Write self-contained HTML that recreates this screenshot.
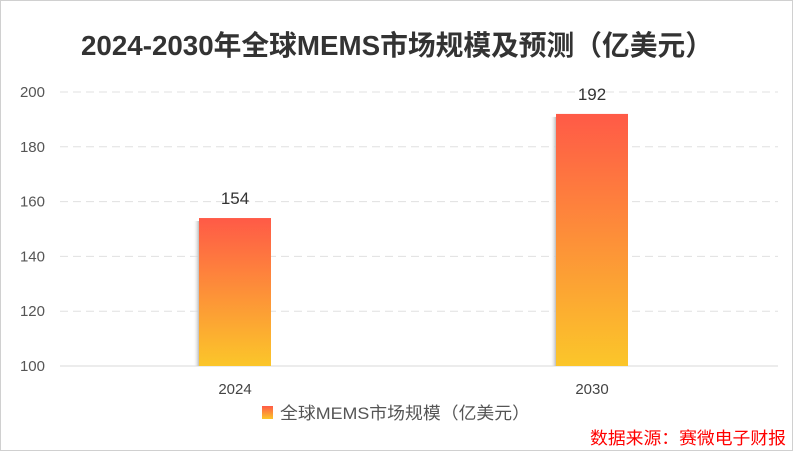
<!DOCTYPE html>
<html><head><meta charset="utf-8"><style>
body{margin:0;background:#fff;}
#c{position:relative;width:794px;height:452px;font-family:"Liberation Sans","Noto Sans CJK SC",sans-serif;}
</style></head><body>
<div id="c">
<svg id="s" width="794" height="452" xmlns="http://www.w3.org/2000/svg">
<defs>
<linearGradient id="g" x1="0" y1="0" x2="0" y2="1"><stop offset="0" stop-color="#ff5a47"/><stop offset="1" stop-color="#fbc62a"/></linearGradient>
<linearGradient id="sh" x1="0" y1="0" x2="1" y2="0"><stop offset="0" stop-color="#fff" stop-opacity="0"/><stop offset="1" stop-color="#bbb"/></linearGradient>
</defs>
<rect x="0.5" y="0.5" width="792" height="450" fill="#fff" stroke="#d0d0d0"/>
<text x="397" y="55" text-anchor="middle" font-size="28" font-weight="bold" fill="#333" textLength="632" lengthAdjust="spacingAndGlyphs">2024-2030年全球MEMS市场规模及预测（亿美元）</text>
<g id="grid"></g><g id="bars"></g>
<rect x="262" y="406" width="11" height="13" fill="url(#g)"/>
<text x="280" y="419" font-size="17" fill="#555" textLength="250" lengthAdjust="spacingAndGlyphs">全球MEMS市场规模（亿美元）</text>
<text x="786" y="444" text-anchor="end" font-size="17" fill="#ff0000" textLength="196" lengthAdjust="spacingAndGlyphs">数据来源：赛微电子财报</text>
</svg>
</div>
<script>
const categories=["2024","2030"];
const values=[154,192];
const ticks=[100,120,140,160,180,200];
const ns="http://www.w3.org/2000/svg";
const y0=366,y1=92,vmin=100,vmax=200;
function y(v){return y0-(v-vmin)/(vmax-vmin)*(y0-y1);}
const xc=[235,592],bw=72;
const grid=document.getElementById('grid'),bars=document.getElementById('bars');
ticks.forEach(t=>{
 const l=document.createElementNS(ns,'line');
 l.setAttribute('x1',60);l.setAttribute('x2',778);l.setAttribute('y1',y(t));l.setAttribute('y2',y(t));
 l.setAttribute('stroke',t===vmin?'#d9d9d9':'#e0e0e0');
 if(t!==vmin)l.setAttribute('stroke-dasharray','8,5');
 
 
 grid.appendChild(l);
 const tx=document.createElementNS(ns,'text');
 tx.setAttribute('x',45);tx.setAttribute('y',y(t)+5);tx.setAttribute('text-anchor','end');
 tx.setAttribute('font-size','15');tx.setAttribute('fill','#555');tx.textContent=t;
 
 
 grid.appendChild(tx);
});
categories.forEach((c,i)=>{
 const x=xc[i]-bw/2,top=y(values[i]);
 const s=document.createElementNS(ns,'rect');
 s.setAttribute('x',x-6);s.setAttribute('y',top+3);s.setAttribute('width',6);s.setAttribute('height',y0-top-3);s.setAttribute('fill','url(#sh)');
 
 
 bars.appendChild(s);
 const r=document.createElementNS(ns,'rect');
 r.setAttribute('x',x);r.setAttribute('y',top);r.setAttribute('width',bw);r.setAttribute('height',y0-top);r.setAttribute('fill','url(#g)');
 
 
 bars.appendChild(r);
 const v=document.createElementNS(ns,'text');
 v.setAttribute('x',xc[i]);v.setAttribute('y',top-14);v.setAttribute('text-anchor','middle');v.setAttribute('font-size','17');v.setAttribute('fill','#333');v.textContent=values[i];
 
 
 bars.appendChild(v);
 const cl=document.createElementNS(ns,'text');
 cl.setAttribute('x',xc[i]);cl.setAttribute('y',394);cl.setAttribute('text-anchor','middle');cl.setAttribute('font-size','15');cl.setAttribute('fill','#444');cl.textContent=c;
 
 
 bars.appendChild(cl);
});
</script>
</body></html>
